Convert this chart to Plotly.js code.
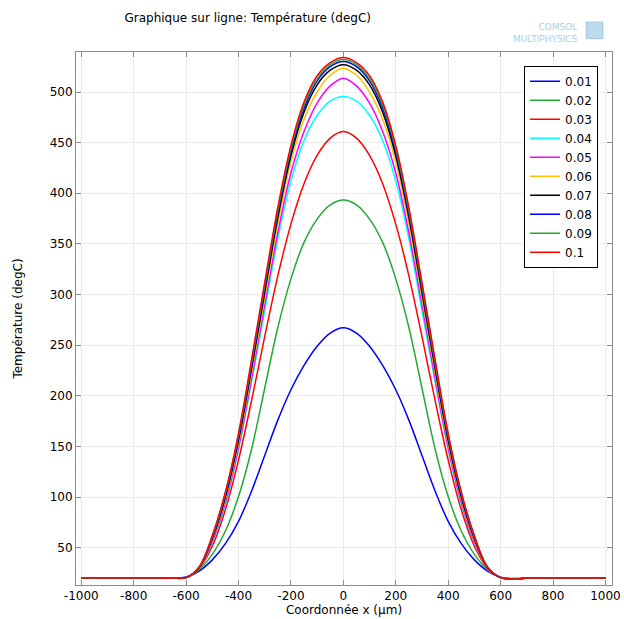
<!DOCTYPE html>
<html>
<head>
<meta charset="utf-8">
<script src="https://cdn.plot.ly/plotly-3.0.1.min.js"></script>
<style>html,body{margin:0;padding:0;background:#fff;}#chart{width:624px;height:619px;}</style>
</head>
<body>
<div id="chart"></div>
<script>
// x coordinate (µm)
const xCoord = [-1000,-900,-800,-700,-650,-600,-550,-500,-450,-400,-350,-300,-250,-200,-150,-100,-50,0,
                50,100,150,200,250,300,350,400,450,500,550,600,650,700,800,900,1000];

const seriesNames = ["0.01","0.02","0.03","0.04","0.05","0.06","0.07","0.08","0.09","0.1"];
const seriesColors = ["#0000ff","#22aa33","#ff0000","#00ffff","#ff00ff","#ffbf00","#000000","#0000ff","#22aa33","#ff0000"];

// Temperature (degC) for each series
const t001 = [20,20,20,20,20,21,27,38,54,76,106,141,176,206,230,249,262,267.3,
              262,249,230,206,176,141,106,76,54,38,27,21,19.6,20,20,20,20];
const t002 = [20,20,20,20,20,20.5,28.5,43.5,66.5,100.5,147.5,207.5,267.5,315.5,351.5,374.5,388.5,393.4,
              388.5,374.5,351.5,315.5,267.5,207.5,147.5,100.5,66.5,43.5,28.5,20.5,19.3,20,20,20,20];
const t003 = [20,20,20,20,20,20.5,29.5,51.5,87.5,136.5,195.5,258.5,318.5,369.5,409.5,437.5,454.5,461,
              454.5,437.5,409.5,369.5,318.5,258.5,195.5,136.5,87.5,51.5,29.5,20.5,19,20,20,20,20];
const t004 = [20,20,20,20,20,20.5,30,55,93,147,214,284,355,412,452,477,491,495.5,
              491,477,452,412,355,284,214,147,93,55,30,20.5,19,20,20,20,20];
const t005 = [20,20,20,20,20,20.5,30,56,95,149,217,290,361,420,461,489,506,513.6,
              506,489,461,420,361,290,217,149,95,56,30,20.5,19,20,20,20,20];
const t006 = [20,20,20,20,20,20.5,30,58,98,153,223,297,370,431,473,500,516.5,523.5,
              516.5,500,473,431,370,297,223,153,98,58,30,20.5,19,20,20,20,20];
const t007 = [20,20,20,20,20,20.5,30.5,59,100,156,227,302,376,437,480,507,521.5,527,
              521.5,507,480,437,376,302,227,156,100,59,30.5,20.5,19,20,20,20,20];
const t008 = [20,20,20,20,20,20.5,30.5,60,102,159,230,306,380,441,484,511,525,530,
              525,511,484,441,380,306,230,159,102,60,30.5,20.5,19,20,20,20,20];
const t009 = [20,20,20,20,20,20.5,31,61,104,161,233,309,383,444,487,513,527,532,
              527,513,487,444,383,309,233,161,104,61,31,20.5,19,20,20,20,20];
const t010 = [20,20,20,20,20,20.5,31,62,105,163,236,312,386,447,490,516,529,534,
              529,516,490,447,386,312,236,163,105,62,31,20.5,19,20,20,20,20];

const seriesValues = [t001,t002,t003,t004,t005,t006,t007,t008,t009,t010];

const xTickVals = [-1000,-800,-600,-400,-200,0,200,400,600,800,1000];
const xTickText = ["-1000","-800","-600","-400","-200","0","200","400","600","800","1000"];
const yTickVals = [50,100,150,200,250,300,350,400,450,500];

const FONT = "DejaVu Sans, Verdana, sans-serif";

const traces = seriesNames.map((n, i) => ({
  type: "scatter",
  mode: "lines",
  name: n,
  x: xCoord,
  y: seriesValues[i],
  line: {color: seriesColors[i], width: 1.5, shape: "spline", smoothing: 1}
}));

const axisCommon = {
  showline: true, linecolor: "#8c8c8c", linewidth: 1, mirror: "ticks",
  ticks: "inside", ticklen: 5, tickcolor: "#8c8c8c", tickwidth: 1,
  showgrid: true, gridcolor: "#ebebeb", gridwidth: 1, zeroline: false,
  tickfont: {family: FONT, size: 12, color: "#000"}
};

const layout = {
  width: 624, height: 619,
  margin: {l: 76, r: 12, t: 52, b: 34, pad: 0},
  paper_bgcolor: "#fff", plot_bgcolor: "#fff",
  font: {family: FONT, size: 12, color: "#000"},
  title: {text: "Graphique sur ligne: Température (degC)", font: {family: FONT, size: 12, color: "#000"},
          x: 0.397, xref: "container", xanchor: "center", y: 0.971, yref: "container", yanchor: "middle"},
  xaxis: Object.assign({}, axisCommon, {
    range: [-1020, 1025], tickmode: "array", tickvals: xTickVals, ticktext: xTickText,
    title: {text: "Coordonnée x (µm)", font: {family: FONT, size: 12, color: "#000"}, standoff: 0}
  }),
  yaxis: Object.assign({}, axisCommon, {
    range: [13.2, 539.5], tickmode: "array", tickvals: yTickVals,
    title: {text: "Température (degC)", font: {family: FONT, size: 12, color: "#000"}, standoff: 24}
  }),
  showlegend: true,
  legend: {
    x: 0.974, xanchor: "right", y: 0.974, yanchor: "top",
    bgcolor: "#fff", bordercolor: "#000", borderwidth: 1,
    font: {family: FONT, size: 12, color: "#000"}, tracegroupgap: 0
  },
  annotations: [{
    text: "COMSOL<br>MULTIPHYSICS", xref: "paper", yref: "paper",
    x: 0.94, y: 1.012, xanchor: "right", yanchor: "bottom", align: "right",
    showarrow: false, font: {family: FONT, size: 9, color: "#a9cfe3"}
  }],
  shapes: [{
    type: "rect", xref: "paper", yref: "paper", x0: 0.952, x1: 0.983, y0: 1.025, y1: 1.056,
    fillcolor: "#bcdbeb", line: {color: "#9cc5dd", width: 1}
  }]
};

Plotly.newPlot("chart", traces, layout, {displayModeBar: false, staticPlot: true});
</script>
</body>
</html>
